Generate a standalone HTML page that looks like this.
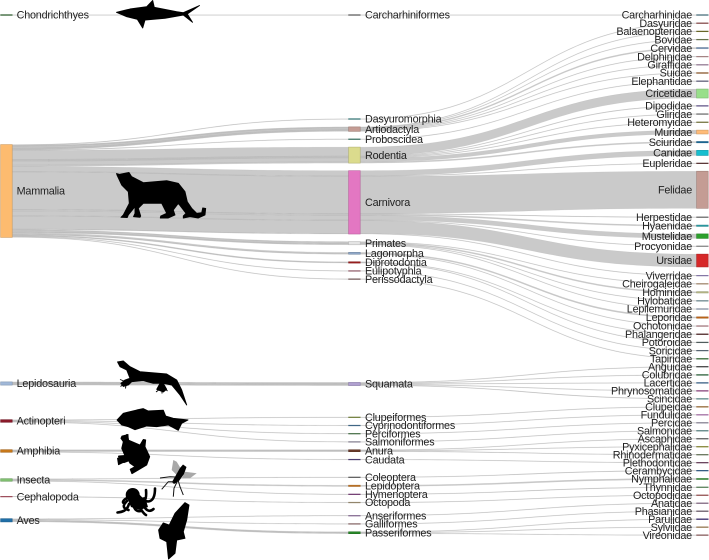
<!DOCTYPE html>
<html lang="en">
<head>
<meta charset="utf-8">
<title>Taxonomic Sankey diagram</title>
<style>
html,body{margin:0;padding:0;background:#fff;width:709px;height:560px;overflow:hidden}
svg{display:block;filter:blur(0.3px)}
text{font-family:"Liberation Sans",sans-serif;font-size:10.8px;letter-spacing:-0.2px;fill:#222}
#silhouettes path.solid{stroke:#000;stroke-width:0.9;stroke-linejoin:round}
</style>
</head>
<body>
<svg id="chart" xmlns="http://www.w3.org/2000/svg" width="709" height="560" viewBox="0 0 709 560">
  <g id="links"></g>
  <g id="nodes"></g>
  <g id="labels"></g>
  <g id="silhouettes" fill="#000">
    <path class="solid" d="M116.5 12.3L130 9L146.7 6.7L152.7 0.5L154.3 7.3L176.7 11.7L183.3 12.7L199.5 5.5L187.3 14L192.5 22.3L183.3 15L165 18.3L145 20L142.7 28L137.3 19.3L126.7 16.7Z"/>
    <path class="solid" d="M116.5 173.5L119.5 174.3L129 172.5L131.7 176.7L143.3 182.7L166.7 180.7L178.3 183.3L185 191.7L187.3 201.7L191.7 208.3L196.7 213.3L201.7 212.7L202.7 208L205.7 208.5L205 215L198.3 218L190 216.7L183.3 218L183.3 216L186 213.3L178.3 203.3L173.3 210L175 215L168.3 218L160.3 218L160.7 216L166.7 213.3L161.7 203.3L143.3 203.3L138.3 208.3L140.7 216L140 217.3L133.5 216.7L135 213.3L135 206.7L128.3 215L127.3 217.5L121 217.3L123.3 215L129.3 203.3L128.3 191.7L121.7 185L117 175Z"/>
    <path class="solid" d="M117.5 361.9L123.3 361L130 366.7L140 371.7L166.7 374L176.7 380L181.7 390L186.7 405L180 395L171.7 385L163.3 383.3L166.7 389.3L163.3 392L156.7 389.3L160 383.3L153.3 383.3L143.3 380.7L131.7 381.7L128.3 385L123.3 386.5L120.9 383.3L125 380L130 378.3L126.7 370L120 366.7Z"/>
    <path fill="none" stroke="#000" stroke-width="0.9" d="M124 381L120 379.5M124 384L120.5 386.5M126 385L125.5 388.5M160 389L156 392M162 389L162 393.5M164.5 388L167.5 391"/>
    <path class="solid" d="M117 420L123.3 413.3L136.7 410L143.3 408.6L148.3 411L163.3 410.2L165.7 416L173.3 418.3L188 420L181.7 423.3L178.3 430.3L168.3 425L156.7 426.7L146.7 426L135 429.7L128.3 426.7L121.7 425Z"/>
    <path class="solid" d="M122 436L128 434.5L128.3 440L140 445L143.3 439.5L145.7 440L145 446.7L149.7 456.7L146.7 465L138.3 470L131.9 473.7L130.2 469.3L135 466.7L130 463.3L128.3 460L118.5 464.7L117.5 458.3L125 456L121.7 448.3L123.3 441.7L120.9 438.3Z"/>
    <path fill="none" stroke="#000" stroke-width="2" stroke-linecap="round" d="M132 459L124 462L119 460M125 456L119 456.5M127 441L122 437.5M128 440L127 435M142 447L143 441"/>
    <g>
      <path fill="#a8a8a8" d="M173.3 460L176.7 461.7L181.7 470L176.7 475L171.7 470Z"/>
      <path fill="#a8a8a8" d="M185 471.7L196.7 473.3L190 478.3L181.7 478.3Z"/>
      <path d="M183 464.5L186.5 467L184 474L179 481L174 484L172 482L176 475L180 468Z"/>
      <path fill="none" stroke="#111" stroke-width="1" d="M160 478L170 476.7L175 477M161.7 489.3L168.3 481.7L174 481.7M173.3 496.7L174 488.3L177 482M183.3 495L180 486.7L178 480"/>
    </g>
    <g>
      <circle cx="132.7" cy="495" r="7"/>
      <path fill="none" stroke="#000" stroke-width="2.6" stroke-linecap="round" d="M137 497C143 504 147 503 146 490M139 496C147 505 155 503 155 488.5M127 498C123 500 122 503 124 503M127 501C123 505 122 508 128.5 510M129 504C127 511 122 512 117.5 512.5M134 503C133 508 136 512 141 511M138 503C140 509 144 514 146 515M142 504C146 510 149 513 153.5 509"/>
      <path d="M128 500L145 497L148 507L140 510L131 507Z"/>
    </g>
    <path class="solid" d="M185 502.6L189 505L186.7 520L183.3 531.7L185 538.3L176.7 540L175 553.3L168.5 559L166.7 541.7L160 538.3L158.6 530L163.3 522.9L169.3 525L175 513.3Z"/>
  </g>
</svg>
<script>
// ---- Data ----
const classNames = ['Chondrichthyes','Mammalia','Lepidosauria','Actinopteri','Amphibia','Insecta','Cephalopoda','Aves'];
const orderNames = ['Carcharhiniformes','Dasyuromorphia','Artiodactyla','Proboscidea','Rodentia','Carnivora','Primates','Lagomorpha','Diprotodontia','Eulipotyphla','Perissodactyla','Squamata','Clupeiformes','Cyprinodontiformes','Perciformes','Salmoniformes','Anura','Caudata','Coleoptera','Lepidoptera','Hymenoptera','Octopoda','Anseriformes','Galliformes','Passeriformes'];
const orderClass = ['Chondrichthyes','Mammalia','Mammalia','Mammalia','Mammalia','Mammalia','Mammalia','Mammalia','Mammalia','Mammalia','Mammalia','Lepidosauria','Actinopteri','Actinopteri','Actinopteri','Actinopteri','Amphibia','Amphibia','Insecta','Insecta','Insecta','Cephalopoda','Aves','Aves','Aves'];
const familyNames = ['Carcharhinidae','Dasyuridae','Balaenopteridae','Bovidae','Cervidae','Delphinidae','Giraffidae','Suidae','Elephantidae','Cricetidae','Dipodidae','Gliridae','Heteromyidae','Muridae','Sciuridae','Canidae','Eupleridae','Felidae','Herpestidae','Hyaenidae','Mustelidae','Procyonidae','Ursidae','Viverridae','Cheirogaleidae','Hominidae','Hylobatidae','Lepilemuridae','Leporidae','Ochotonidae','Phalangeridae','Potoroidae','Soricidae','Tapiridae','Anguidae','Colubridae','Lacertidae','Phrynosomatidae','Scincidae','Clupeidae','Fundulidae','Percidae','Salmonidae','Ascaphidae','Pyxicephalidae','Rhinodermatidae','Plethodontidae','Cerambycidae','Nymphalidae','Thynnidae','Octopodidae','Anatidae','Phasianidae','Parulidae','Sylviidae','Vireonidae'];
const familyOrder = ['Carcharhiniformes','Dasyuromorphia','Artiodactyla','Artiodactyla','Artiodactyla','Artiodactyla','Artiodactyla','Artiodactyla','Proboscidea','Rodentia','Rodentia','Rodentia','Rodentia','Rodentia','Rodentia','Carnivora','Carnivora','Carnivora','Carnivora','Carnivora','Carnivora','Carnivora','Carnivora','Carnivora','Primates','Primates','Primates','Primates','Lagomorpha','Lagomorpha','Diprotodontia','Diprotodontia','Eulipotyphla','Perissodactyla','Squamata','Squamata','Squamata','Squamata','Squamata','Clupeiformes','Cyprinodontiformes','Perciformes','Salmoniformes','Anura','Anura','Anura','Caudata','Coleoptera','Lepidoptera','Hymenoptera','Octopoda','Anseriformes','Galliformes','Passeriformes','Passeriformes','Passeriformes'];
const familyValues = [1,1,1,1,2,1,1,1,1,14,1,1,1,6,2,8,1,58,1,2,7,1,20,1,1,2,1,1,2,1,1,1,1,1,1,1,1,1,1,1,1,1,1,1,1,1,1,1,2,1,1,1,1,1,1,1];

// ---- Palette ----
const classColors = ['#2f6b2f','#fdbb6f','#a0b8d8','#8a1a2a','#c8781a','#80c070','#c06070','#1f6fa8'];
const orderColors = ['#6a6a6a','#3a8a8a','#c49c94','#4a8a7a','#dbdb8d','#e377c2','#e4e4e4','#8fa8c8','#a02020','#b07080','#8a6a6a','#b0a0d0','#8a9a4a','#4a7aa0','#5a8a5a','#a09ab0','#6a3a2a','#5a4a8a','#707070','#c87a2a','#8a4a8a','#b0a080','#a080b0','#a07a7a','#2a8a2a'];
const familyColors = ['#4f7f8f','#a05a5a','#7c7a2e','#7a8a5a','#8fa8c8','#c8a0a0','#b090b0','#a0622a','#6f6f8f','#98df8a','#7060a0','#808080','#8a8a4a','#ffbb78','#1f6f9f','#17becf','#6a3d3d','#c49c94','#7f7f7f','#2aa0a8','#2ca02c','#a0a0a0','#d62728','#a090c8','#c0a080','#bcbd8a','#7fa0a8','#9aa8c0','#c56a1a','#c08a90','#5a2a2a','#5f6f6f','#6a7a8a','#3a7a3a','#4f4f4f','#2a6a3a','#3a6a9a','#a04a90','#6aa0a0','#b07a3a','#c080c0','#a09ab0','#6a9a9a','#707070','#a0a040','#7a8a6a','#7a4a6a','#3a6a9a','#60a860','#6a9a6a','#b06060','#9a7a9a','#7a6a7a','#3a2a7a','#b08a5a','#a06a6a'];

// ---- Layout ----
const NS = 'http://www.w3.org/2000/svg';
const nodeW = 11.6;
const colX = {left: 0.6, mid: 348.6, right: 696.6};
const pad = 7.55;
const unit = 0.64;
const thick = v => v * unit;

function kebab(s){ return s.toLowerCase(); }
function darken(hex){
  const n = parseInt(hex.slice(1), 16);
  const ch = s => Math.round(((n >> s) & 255) * 0.82);
  return 'rgb(' + ch(16) + ',' + ch(8) + ',' + ch(0) + ')';
}

const orderValues = orderNames.map(o => familyValues.reduce((s, v, i) => s + (familyOrder[i] === o ? v : 0), 0));
const classValues = classNames.map(c => orderValues.reduce((s, v, i) => s + (orderClass[i] === c ? v : 0), 0));

// Vertical placement: stacks with constant padding, restarted at each group's anchor
function stack(names, values, anchors, startY, gap){
  const tops = {};
  let y = startY;
  let g = gap;
  names.forEach((n, i) => {
    if (anchors[n] !== undefined) y = anchors[n];
    if (n === 'Colubridae') g = 7.34;
    tops[n] = y;
    y += thick(values[i]) + g;
  });
  return tops;
}
const classTops = stack(classNames, classValues, {
  Chondrichthyes: 14.7, Mammalia: 144.6, Lepidosauria: 381.9, Actinopteri: 419.7,
  Amphibia: 449.7, Insecta: 478.7, Cephalopoda: 496.3, Aves: 518.7
}, 0, pad);
const orderTops = stack(orderNames, orderValues, {
  Carcharhiniformes: 14.7, Dasyuromorphia: 118.7, Squamata: 382.4, Clupeiformes: 417,
  Coleoptera: 477, Anseriformes: 515.4
}, 0, pad);
const familyTops = stack(familyNames, familyValues, {
  Herpestidae: 216.9, Viverridae: 275.3, Anguidae: 366.4
}, 14.7, pad);

// ---- Links ----
const linksG = document.getElementById('links');
function band(x0, y0, x1, y1, w){
  const xm = (x0 + x1) / 2;
  return 'M' + x0 + ',' + y0 + 'C' + xm + ',' + y0 + ' ' + xm + ',' + y1 + ' ' + x1 + ',' + y1 +
         'L' + x1 + ',' + (y1 + w) + 'C' + xm + ',' + (y1 + w) + ' ' + xm + ',' + (y0 + w) + ' ' + x0 + ',' + (y0 + w) + 'Z';
}
const classOffset = {};
const orderInOffset = {};
const orderOutOffset = {};
familyNames.forEach((fam, i) => {
  const ord = familyOrder[i];
  const cls = orderClass[orderNames.indexOf(ord)];
  const w = thick(familyValues[i]);
  const c0 = classOffset[cls] || 0;
  const o0 = orderInOffset[ord] || 0;
  const o1 = orderOutOffset[ord] || 0;
  const linkA = document.createElementNS(NS, 'path');
  
  
  linkA.setAttribute('d', band(colX.left + nodeW, classTops[cls] + c0, colX.mid, orderTops[ord] + o0, w));
  linkA.setAttribute('fill', '#969696');
  linkA.setAttribute('fill-opacity', '0.5');
  linkA.setAttribute('stroke', '#969696');
  linkA.setAttribute('stroke-opacity', '0.3');
  linkA.setAttribute('stroke-width', '0.3');
  linksG.appendChild(linkA);
  const linkB = document.createElementNS(NS, 'path');
  
  
  linkB.setAttribute('d', band(colX.mid + nodeW, orderTops[ord] + o1, colX.right, familyTops[fam], w));
  linkB.setAttribute('fill', '#969696');
  linkB.setAttribute('fill-opacity', '0.5');
  linkB.setAttribute('stroke', '#969696');
  linkB.setAttribute('stroke-opacity', '0.3');
  linkB.setAttribute('stroke-width', '0.3');
  linksG.appendChild(linkB);
  classOffset[cls] = c0 + w;
  orderInOffset[ord] = o0 + w;
  orderOutOffset[ord] = o1 + w;
});

// ---- Nodes and labels ----
const nodesG = document.getElementById('nodes');
const labelsG = document.getElementById('labels');
function drawColumn(names, values, tops, colors, x, labelX, anchor){
  names.forEach((n, i) => {
    const h = thick(values[i]);
    const r = document.createElementNS(NS, 'rect');
    
    
    r.setAttribute('x', x);
    r.setAttribute('y', tops[n]);
    r.setAttribute('width', nodeW);
    r.setAttribute('height', h);
    r.setAttribute('fill', colors[i]);
    r.setAttribute('stroke', darken(colors[i]));
    r.setAttribute('stroke-width', '0.6');
    nodesG.appendChild(r);
    const t = document.createElementNS(NS, 'text');
    
    
    t.setAttribute('x', labelX);
    t.setAttribute('y', tops[n] + h / 2 + 3.7);
    t.setAttribute('text-anchor', anchor);
    t.textContent = n;
    labelsG.appendChild(t);
  });
}
drawColumn(classNames, classValues, classTops, classColors, colX.left, 16.6, 'start');
drawColumn(orderNames, orderValues, orderTops, orderColors, colX.mid, 365, 'start');
drawColumn(familyNames, familyValues, familyTops, familyColors, colX.right, 692, 'end');
</script>
</body>
</html>
